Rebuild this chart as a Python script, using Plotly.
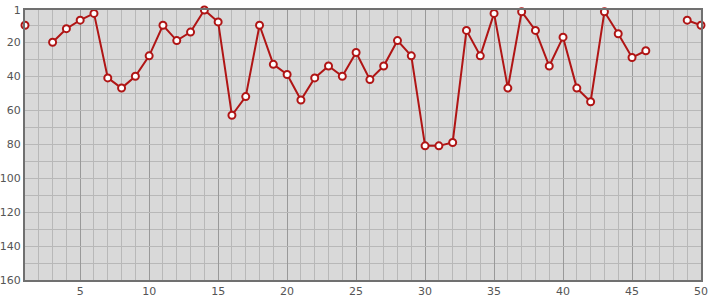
import plotly.graph_objects as go

x_vals = list(range(1, 51))
ranks = [10, None, 20, 12, 7, 3, 41, 47, 40, 28,
         10, 19, 14, 1, 8, 63, 52, 10, 33, 39,
         54, 41, 34, 40, 26, 42, 34, 19, 28, 81,
         81, 79, 13, 28, 3, 47, 2, 13, 34, 17,
         47, 55, 2, 15, 29, 25, None, None, 7, 10]
x_ticks = [5, 10, 15, 20, 25, 30, 35, 40, 45, 50]
y_ticks = [1, 20, 40, 60, 80, 100, 120, 140, 160]

fig = go.Figure()
fig.add_trace(go.Scatter(
    x=x_vals, y=ranks, mode="lines+markers", connectgaps=False,
    line=dict(color="#b01515", width=2),
    marker=dict(size=7, color="white", line=dict(color="#b01515", width=2)),
    cliponaxis=False, showlegend=False,
))

fig.update_layout(
    width=715, height=300,
    margin=dict(l=25, r=14, t=10, b=20, autoexpand=False),
    paper_bgcolor="white", plot_bgcolor="#d9d9d9",
    font=dict(family="DejaVu Sans", size=11, color="#555555"),
    xaxis=dict(range=[1, 50], tickvals=x_ticks, showgrid=True, automargin=False,
               gridcolor="#999999", gridwidth=1,
               minor=dict(dtick=1, tick0=0, showgrid=True, gridcolor="#b8b8b8", gridwidth=1),
               showline=True, mirror=True, linecolor="#707070", linewidth=2,
               zeroline=False, ticks="", ticklen=0),
    yaxis=dict(range=[160, 1], tickvals=y_ticks, showgrid=True, automargin=False,
               gridcolor="#b8b8b8", gridwidth=1,
               minor=dict(dtick=10, tick0=0, showgrid=True, gridcolor="#b8b8b8", gridwidth=1),
               showline=True, mirror=True, linecolor="#707070", linewidth=2,
               zeroline=False, ticks="", ticklen=0),
)

fig.write_html("out.html")
